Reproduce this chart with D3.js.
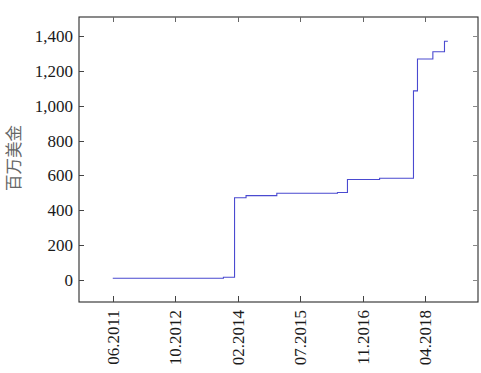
<!DOCTYPE html>
<html><head><meta charset="utf-8">
<script src="https://cdn.jsdelivr.net/npm/d3@7"></script>
<style>body{margin:0;background:#fff}</style>
</head><body><svg id="c" width="481" height="373"></svg>
<script>
// step dates (start of each level) and values (million USD)
const stepDates = ["2011-06-01","2013-11-02","2014-01-30","2014-05-02","2015-01-03","2016-05-02","2016-07-21","2017-04-04","2017-12-31","2018-02-01","2018-06-04","2018-09-05"];
const stepValues = [10,16,472,484,498,502,577,584,1085,1268,1310,1370];
const endDate = "2018-10-02";
const xTickDates = ["2011-06-01","2012-10-13","2014-02-25","2015-07-10","2016-11-21","2018-04-05"];
const xTickLabels = ["06.2011","10.2012","02.2014","07.2015","11.2016","04.2018"];
const yTicks = [0,200,400,600,800,1000,1200,1400];
const yTitle = "百万美金";

const parse = d3.utcParse("%Y-%m-%d");
const svg = d3.select("#c");
const L = 79, R = 478, T = 17, B = 302;
const x = d3.scaleUtc().domain([parse("2010-09-04"), parse("2019-05-31")]).range([L, R]);
const y = d3.scaleLinear().domain([-126, 1509]).range([B, T]);

const pts = stepDates.map((d,i)=>[parse(d), stepValues[i]]);
pts.push([parse(endDate), stepValues[stepValues.length-1]]);

const line = d3.line().x(d=>x(d[0])).y(d=>y(d[1])).curve(d3.curveStepAfter);
svg.append("path").datum(pts).attr("d", line)
  .attr("fill","none").attr("stroke","#4a4ad0").attr("stroke-width",1.1);

const font = "'Liberation Serif', serif";
// box
svg.append("rect").attr("x",L).attr("y",T).attr("width",R-L).attr("height",B-T)
  .attr("fill","none").attr("stroke","#2a2a2a").attr("stroke-width",1.1);

// y ticks
const yg = svg.append("g");
yTicks.forEach(v=>{
  const yy = Math.round(y(v))+0.5;
  yg.append("line").attr("x1",L).attr("x2",L+5).attr("y1",yy).attr("y2",yy).attr("stroke","#444");
  yg.append("line").attr("x1",R-5).attr("x2",R).attr("y1",yy).attr("y2",yy).attr("stroke","#888");
  yg.append("text").attr("x",L-6).attr("y",y(v)).attr("dy","0.35em").attr("text-anchor","end")
    .attr("font-family",font).attr("font-size",17).attr("fill","#1a1a1a")
    .text(d3.format(",")(v));
});
// x ticks
const xg = svg.append("g");
xTickDates.forEach((d,i)=>{
  const xx = Math.round(x(parse(d)))+0.5;
  xg.append("line").attr("x1",xx).attr("x2",xx).attr("y1",B-6).attr("y2",B).attr("stroke","#444");
  xg.append("line").attr("x1",xx).attr("x2",xx).attr("y1",T).attr("y2",T+5).attr("stroke","#666");
  xg.append("text").attr("transform",`translate(${x(parse(d))},${B+8}) rotate(-90)`)
    .attr("dy","0.35em").attr("text-anchor","end")
    .attr("font-family",font).attr("font-size",17).attr("fill","#1a1a1a")
    .text(xTickLabels[i]);
});
// y title
svg.append("text").attr("transform","translate(14,158) rotate(-90)")
  .attr("text-anchor","middle").attr("dy","0.35em")
  .attr("font-family","'Noto Sans CJK SC', sans-serif").attr("font-size",16.5)
  .attr("fill","#666").text(yTitle);
</script></body></html>
